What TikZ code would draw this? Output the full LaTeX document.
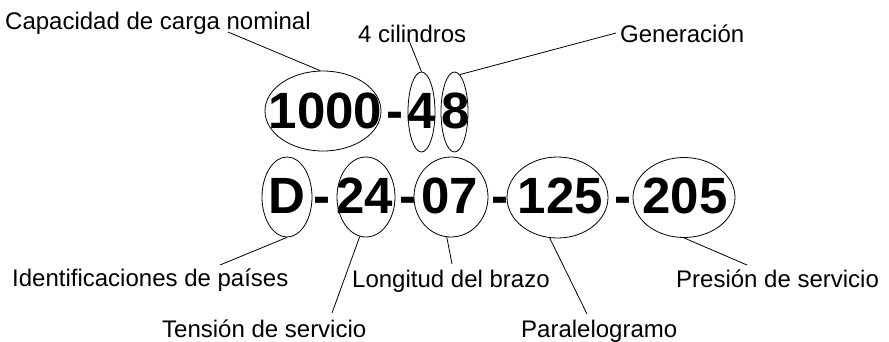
\documentclass[tikz,border=0pt]{standalone}
\usepackage{fontspec}
\setmainfont{Liberation Sans}
\usetikzlibrary{shapes.geometric,calc}
\tikzset{
  oval/.style={ellipse, draw, line width=0.8pt, inner sep=0pt},
  digits/.style={anchor=base, inner sep=0pt, font=\fontsize{51}{56}\selectfont\bfseries},
  lbl/.style={anchor=base west, inner sep=0pt, font=\fontsize{24}{28}\selectfont},
  conn/.style={line width=0.8pt}
}
\begin{document}
\begin{tikzpicture}[x=1pt,y=-1pt]
\useasboundingbox (0,0) rectangle (889,341);
% ellipses
\node[oval, minimum width=116pt, minimum height=80pt] (e1000) at (323,111) {};
\node[oval, minimum width=27pt, minimum height=80pt] (e4) at (421.5,112) {};
\node[oval, minimum width=27pt, minimum height=80pt] (e8) at (454.5,112) {};
\node[oval, minimum width=50pt, minimum height=80pt] (eD) at (287,197) {};
\node[oval, minimum width=58pt, minimum height=80pt] (e24) at (366,197) {};
\node[oval, minimum width=74pt, minimum height=80pt] (e07) at (451,197) {};
\node[oval, minimum width=101pt, minimum height=81pt] (e125) at (557.5,197.5) {};
\node[oval, minimum width=102pt, minimum height=80pt] (e205) at (684,197.5) {};
% big digits
\node[digits] (t1000) at (325.5,128) {1000};
\node[digits] (d1) at (395,128) {-};
\node[digits] (t4) at (422,128) {4};
\node[digits] (t8) at (455.5,128) {8};
\node[digits] (tD) at (287,213) {D};
\node[digits] (d2) at (322,213) {-};
\node[digits] (t24) at (365,213) {24};
\node[digits] (d3) at (408,213) {-};
\node[digits] (t07) at (450,213) {07};
\node[digits] (d4) at (500,213) {-};
\node[digits] (t125) at (560.5,213) {125};
\node[digits] (d5) at (623,213) {-};
\node[digits] (t205) at (685,213) {205};
% labels
\node[lbl] (lcap) at (5,29.5) {Capacidad de carga nominal};
\node[lbl] (lcil) at (358,42) {4 cilindros};
\node[lbl] (lgen) at (620,42) {Generación};
\node[lbl] (lid) at (12,286.5) {Identificaciones de países};
\node[lbl] (llon) at (352,287) {Longitud del brazo};
\node[lbl] (lpre) at (676,287) {Presión de servicio};
\node[lbl] (lten) at (162,337) {Tensión de servicio};
\node[lbl] (lpar) at (521,337) {Paralelogramo};
% connectors
\draw[conn] ($(lcap.base west)+(223,2.5)$) -- (e1000.94);
\draw[conn] ($(lcil.base west)+(50,-4)$) -- (e4.north);
\draw[conn] ($(lgen.base west)+(-4,-9)$) -- (e8.82);
\draw[conn] ($(lid.base west)+(208,-21.5)$) -- (eD.south);
\draw[conn] ($(lten.base west)+(170,-24)$) -- (e24.261.7);
\draw[conn] ($(llon.base west)+(100,-23)$) -- (e07.264.4);
\draw[conn] ($(lpar.base west)+(66,-23)$) -- (e125.259.5);
\draw[conn] ($(lpre.base west)+(71,-22)$) -- (e205.south);
\end{tikzpicture}
\end{document}
